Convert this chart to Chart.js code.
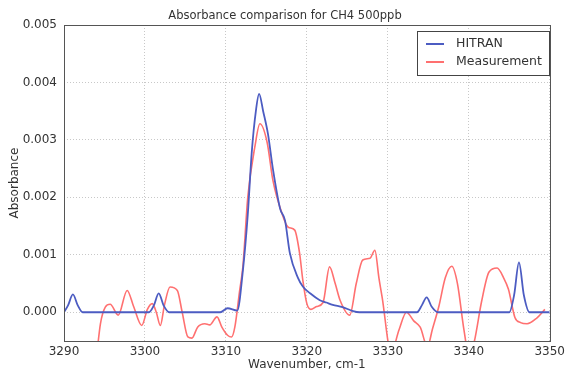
<!DOCTYPE html>
<html>
<head>
<meta charset="utf-8">
<script src="https://cdn.jsdelivr.net/npm/chart.js@4"></script>
<style>
  html, body { margin: 0; padding: 0; background: #fff; }
  #wrap { width: 569px; height: 372px; }
</style>
</head>
<body>
<div id="wrap"><canvas id="absChart" width="569" height="372"></canvas></div>
<script>
// HITRAN simulated spectrum
const hitranX = [3290, 3290.5, 3291.1, 3291.7, 3292.3, 3300.5, 3301.1, 3301.7, 3302.3, 3303.0,
    3309.3, 3310.2, 3311.4, 3312.1, 3312.7, 3313.2, 3313.7, 3314.1, 3314.6, 3315.2,
    3315.8, 3316.7, 3317.3, 3317.9, 3318.9, 3319.5, 3320.4, 3321.6, 3322.4, 3323.2,
    3324.4, 3325.7, 3326.5, 3333.6, 3334.2, 3334.8, 3335.4, 3336.2, 3345.0, 3345.6,
    3346.2, 3346.8, 3347.5, 3350];
const hitranY = [0, 0.00012, 0.00031, 0.00012, 0, 0, 0.00012, 0.00033, 0.00012, 0,
    0, 0.00007, 0.00003, 0.00073, 0.0017, 0.0028, 0.0035, 0.0038, 0.0035, 0.0031,
    0.0025, 0.0018, 0.0016, 0.00103, 0.0006, 0.00045, 0.00033, 0.00021, 0.00017, 0.00013,
    0.00009, 0.00002, 0, 0, 0.00012, 0.00026, 0.0001, 0, 0, 0.0003,
    0.00087, 0.0003, 0, 0];

// measured spectrum
const measX = [3294.0, 3294.5, 3295.1, 3295.7, 3296.7, 3297.8, 3298.6, 3299.6, 3300.3, 3300.9,
    3301.4, 3301.9, 3302.4, 3303.1, 3304.0, 3304.6, 3305.3, 3305.8, 3306.5, 3307.4,
    3308.0, 3308.9, 3309.5, 3310.2, 3310.7, 3311.1, 3311.7, 3312.1, 3312.7, 3313.6,
    3314.2, 3315.1, 3315.8, 3316.9, 3317.7, 3318.5, 3319.1, 3319.5, 3320.0, 3320.5,
    3321.2, 3322.0, 3322.8, 3323.5, 3324.1, 3325.3, 3326.1, 3326.9, 3327.8, 3328.4,
    3328.9, 3329.3, 3330.4, 3331.4, 3332.3, 3333.2, 3334.0, 3334.9, 3335.5, 3336.3,
    3337.1, 3337.9, 3338.6, 3339.4, 3340.1, 3340.7, 3341.6, 3342.5, 3343.5, 3344.3,
    3344.9, 3345.7, 3346.4, 3347.2, 3348.4, 3349.4];
const measY = [-0.0008, -0.0002, 0.00009, 0.00014, -0.00005, 0.00038, 0.0001, -0.00023, 0.00005, 0.00015,
    0.0, -0.00023, 0.00012, 0.00044, 0.00038, 0.0, -0.00043, -0.00045, -0.00026, -0.0002,
    -0.00022, -0.00008, -0.00026, -0.0004, -0.00043, -0.00026, 0.00038, 0.0008, 0.002, 0.0029,
    0.00328, 0.00295, 0.0023, 0.00173, 0.00148, 0.00143, 0.00103, 0.00056, 0.00015, 0.00005,
    0.0001, 0.00017, 0.00079, 0.0005, 0.00021, -0.00005, 0.0005, 0.00091, 0.00094, 0.00108,
    0.0006, 0.00026, -0.0007, -0.0003, 0.0, -0.00015, -0.00026, -0.0006, -0.0003, 0.0001,
    0.0006, 0.0008, 0.0005, -0.0003, -0.0008, -0.0005, 0.0002, 0.0007, 0.00077, 0.0006,
    0.0004, -0.00009, -0.00018, -0.0002, -0.0001, 0.00005];

const xTicks = [3290, 3300, 3310, 3320, 3330, 3340, 3350];
const yTicks = [0, 0.001, 0.002, 0.003, 0.004, 0.005];

const toPoints = (xs, ys) => xs.map((x, i) => ({ x: x, y: ys[i] }));

const textColor = '#333';
const fontFam = '"DejaVu Sans", sans-serif';

// frame, title and in-plot legend (matplotlib look)
const decorations = {
    id: 'decorations',
    afterDraw(chart) {
        const ctx = chart.ctx;
        const a = chart.chartArea;
        ctx.save();
        ctx.strokeStyle = '#555';
        ctx.lineWidth = 1;
        ctx.strokeRect(Math.round(a.left) + 0.5, Math.round(a.top) + 0.5,
            Math.round(a.right - a.left), Math.round(a.bottom - a.top));

        ctx.fillStyle = textColor;
        ctx.font = '11.5px ' + fontFam;
        ctx.textAlign = 'center';
        ctx.textBaseline = 'bottom';
        ctx.fillText('Absorbance comparison for CH4 500ppb', 285, a.top - 3);

        // legend box
        const bx = 417, by = 31, bw = 132, bh = 44;
        ctx.fillStyle = '#fff';
        ctx.fillRect(bx, by, bw, bh);
        ctx.strokeStyle = '#444';
        ctx.strokeRect(bx + 0.5, by + 0.5, bw, bh);
        ctx.font = '12.5px ' + fontFam;
        const items = chart.data.datasets;
        items.forEach((ds, i) => {
            const y = by + 13 + i * 18;
            ctx.strokeStyle = ds.borderColor;
            ctx.lineWidth = 2;
            ctx.beginPath();
            ctx.moveTo(bx + 9, y);
            ctx.lineTo(bx + 27, y);
            ctx.stroke();
            ctx.fillStyle = textColor;
            ctx.textAlign = 'left';
            ctx.textBaseline = 'middle';
            ctx.fillText(ds.label, bx + 39, y);
        });
        ctx.restore();
    }
};

const absChart = new Chart(document.getElementById('absChart').getContext('2d'), {
    type: 'line',
    data: {
        datasets: [{
            label: 'HITRAN',
            data: toPoints(hitranX, hitranY),
            borderColor: '#4c5cc2',
            borderWidth: 1.8,
            pointRadius: 0,
            cubicInterpolationMode: 'monotone'
        }, {
            label: 'Measurement',
            data: toPoints(measX, measY),
            borderColor: '#ff7070',
            borderWidth: 1.6,
            pointRadius: 0,
            cubicInterpolationMode: 'monotone'
        }]
    },
    options: {
        responsive: false,
        animation: false,
        layout: { padding: { top: 25, right: 19, left: 0, bottom: 0 } },
        plugins: {
            legend: { display: false },
            tooltip: { enabled: false }
        },
        scales: {
            x: {
                type: 'linear',
                min: 3290,
                max: 3350,
                afterBuildTicks: (s) => { s.ticks = xTicks.map(v => ({ value: v })); },
                afterFit: (s) => { s.height = 31; },
                grid: { color: '#c8c8c8', tickLength: 0, drawTicks: false },
                border: { display: false, dash: [1, 2] },
                ticks: {
                    color: textColor,
                    font: { family: fontFam, size: 12 },
                    padding: 4,
                    maxRotation: 0,
                    callback: (v) => String(v)
                },
                title: {
                    display: true,
                    text: 'Wavenumber, cm-1',
                    color: textColor,
                    font: { family: fontFam, size: 12 },
                    padding: { top: 0, bottom: 0 }
                }
            },
            y: {
                min: -0.0005,
                max: 0.005,
                afterBuildTicks: (s) => { s.ticks = yTicks.map(v => ({ value: v })); },
                afterFit: (s) => { s.width = 64; },
                grid: { color: '#c8c8c8', drawTicks: false },
                border: { display: false, dash: [1, 2] },
                ticks: {
                    color: textColor,
                    font: { family: fontFam, size: 12 },
                    padding: 7,
                    callback: (v) => v.toFixed(3)
                },
                title: {
                    display: true,
                    text: 'Absorbance',
                    color: textColor,
                    font: { family: fontFam, size: 12 },
                    padding: { top: 8, bottom: 2 }
                }
            }
        }
    },
    plugins: [decorations]
});
</script>
</body>
</html>
